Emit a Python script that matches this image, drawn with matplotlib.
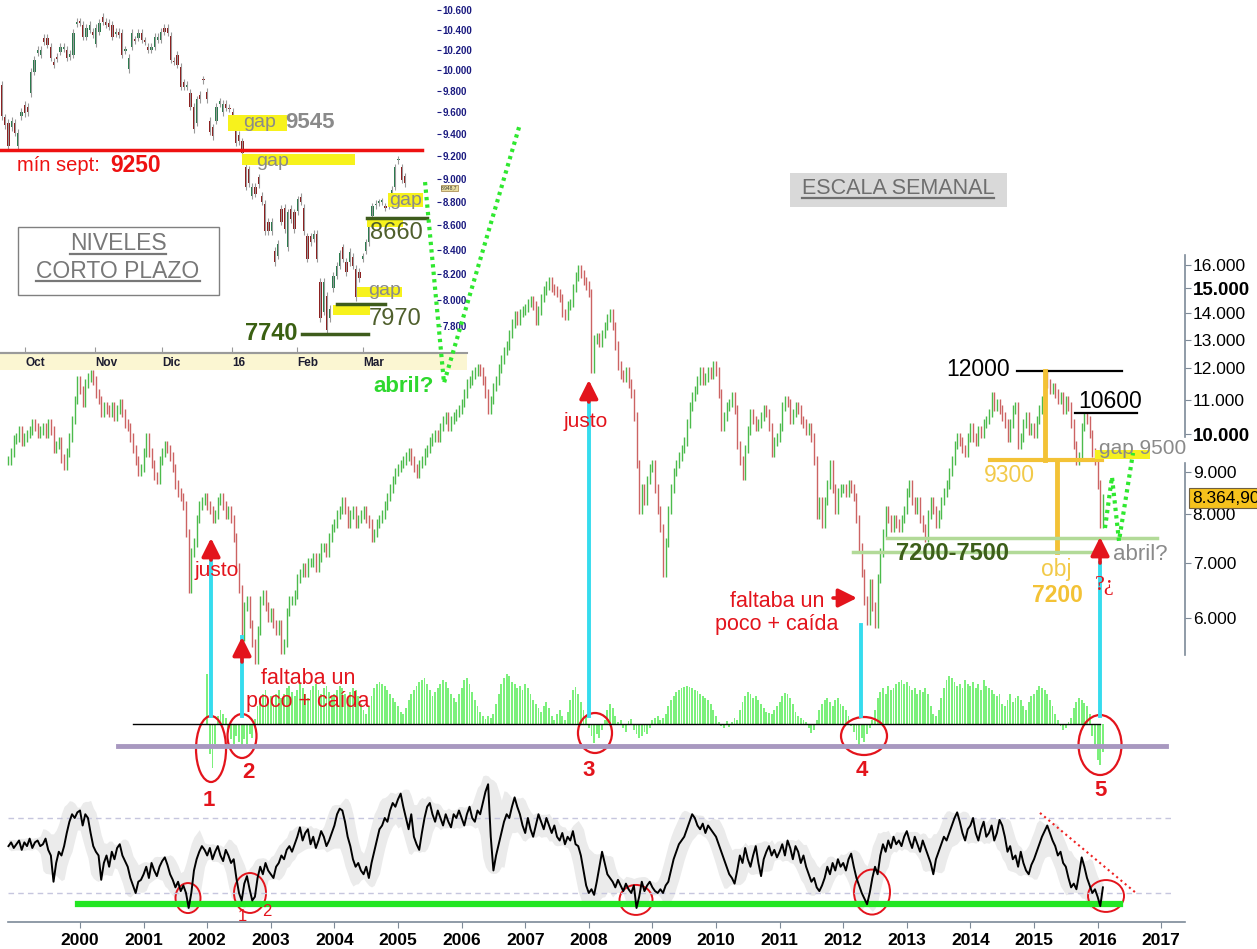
import numpy as np
import pandas as pd
import matplotlib
matplotlib.use("Agg")
import matplotlib.pyplot as plt
from matplotlib.patches import Ellipse, Rectangle
from matplotlib.lines import Line2D
from matplotlib.ticker import FixedLocator, NullLocator

plt.rcParams["font.family"] = ["Liberation Sans", "DejaVu Sans"]

# ---------------- data ----------------
# weekly index chart, sampled twice a month (close), starting Nov 1998
START = 1998.875
PRICE_1998 = [9300, 9500, 9850]
PRICE_1999 = [9900, 10100, 9800, 9900, 10000, 10100, 10300, 10200, 10000, 10100, 10200, 10000,
              10300, 10100, 9600, 9700, 9800, 9350, 9150, 9500, 9900, 10400, 11000, 11600]
PRICE_2000 = [11300, 10900, 11500, 11700, 11800, 11600, 11200, 11000, 10600, 10800, 10700, 10600,
              10800, 10500, 10700, 10900, 10600, 10300, 10200, 9900, 9600, 9300, 9000, 9100]
PRICE_2001 = [9500, 9900, 9500, 9200, 8900, 8800, 9300, 9500, 9700, 9600, 9400, 9100,
              8700, 8500, 8400, 8200, 7600, 6500, 7200, 7400, 7900, 8200, 8300, 8400]
PRICE_2002 = [8200, 8100, 7900, 8000, 8300, 8400, 8200, 8000, 8100, 7900, 7500, 6900,
              6500, 5700, 6200, 6300, 5900, 5600, 5350, 5800, 6300, 6400, 6200, 6000]
PRICE_2003 = [6100, 5900, 5800, 5900, 5500, 5600, 6100, 6300, 6300, 6400, 6700, 6800,
              6900, 6800, 7000, 7000, 7100, 6900, 7100, 7300, 7300, 7200, 7500, 7700]
PRICE_2004 = [7800, 8000, 8100, 8300, 8100, 7800, 8000, 8100, 7800, 7900, 8000, 8100,
              7900, 7800, 7500, 7600, 7800, 7900, 8000, 8200, 8400, 8600, 8800, 9000]
PRICE_2005 = [9100, 9200, 9300, 9400, 9500, 9300, 9100, 8950, 9200, 9300, 9500, 9600,
              9800, 9900, 10000, 9900, 10200, 10400, 10500, 10200, 10400, 10500, 10600, 10700]
PRICE_2006 = [10900, 11200, 11500, 11600, 11800, 11900, 12000, 11900, 11600, 11200, 10700, 11000,
              11400, 11600, 12000, 12300, 12600, 12800, 13200, 13600, 13900, 13700, 14000, 14100]
PRICE_2007 = [14200, 14400, 14500, 14300, 13700, 14100, 14600, 14900, 15100, 15300, 15000, 14900,
              14800, 14600, 14000, 13900, 14300, 14400, 15000, 15500, 15800, 15600, 15300, 15100]
PRICE_2008 = [14800, 12000, 13000, 13100, 12900, 13200, 13500, 13800, 14000, 13500, 12800, 12100,
              11800, 11700, 11900, 11500, 11200, 10500, 9200, 8100, 8600, 8300, 8800, 9100]
PRICE_2009 = [9200, 8600, 8100, 7700, 6800, 7400, 8100, 8600, 9000, 9200, 9400, 9600,
              9800, 10300, 10800, 11100, 11300, 11600, 11900, 11600, 11700, 11900, 11800, 12100]
PRICE_2010 = [11900, 11200, 10200, 10500, 10800, 10900, 11100, 10700, 9700, 9300, 8900, 9600,
              10100, 10600, 10400, 10200, 10300, 10500, 10700, 10600, 10200, 9500, 9800, 9900]
PRICE_2011 = [10200, 10800, 11000, 10900, 10400, 10600, 10800, 10700, 10400, 10300, 10100, 10200,
              9900, 9300, 8000, 8300, 7800, 8300, 8700, 9200, 8600, 8100, 8500, 8600]
PRICE_2012 = [8600, 8500, 8700, 8600, 8400, 7900, 7300, 6800, 6300, 5950, 6600, 6200,
              5900, 6700, 7200, 7600, 8100, 7900, 7700, 7900, 7800, 7700, 7900, 8100]
PRICE_2013 = [8500, 8700, 8300, 8100, 8300, 7900, 7700, 7500, 8000, 8300, 8100, 7800,
              8000, 8300, 8500, 8700, 9000, 9300, 9700, 9900, 9800, 9600, 9500, 9900]
PRICE_2014 = [10200, 9900, 9800, 10100, 10000, 10300, 10400, 10600, 11100, 10800, 10900, 10700,
              10500, 10300, 9900, 10300, 10700, 10800, 9700, 9900, 10300, 10500, 10100, 10200]
PRICE_2015 = [10000, 10400, 10700, 11000, 11850, 11500, 11300, 11400, 11200, 11000, 11100, 10700,
              11000, 10800, 10300, 9700, 9300, 9400, 10200, 10500, 10400, 10000, 9500, 9300]
PRICE_2016 = [8700, 7800, 8365]

# momentum histogram (twice a month from Jan 2002)
HIST_START = 2002.0
HIST_2002 = [50, -30, -44, -20, 8, 14, 10, 6, -8, -15, -20, -12, -18, -23, -15, -20, -10, -14, 5, 18, 26, 30, 34, 22]
HIST_2003 = [28, 20, 30, 34, 26, 30, 36, 38, 32, 28, 34, 40, 36, 30, 26, 34, 38, 40, 34, 30, 36, 38, 32, 28]
HIST_2004 = [30, 34, 38, 36, 30, 26, 32, 36, 34, 28, 20, 14, 10, 18, 28, 36, 40, 42, 40, 38, 34, 30, 26, 22]
HIST_2005 = [18, 12, 10, 16, 24, 30, 34, 38, 42, 44, 46, 40, 34, 28, 32, 36, 40, 44, 42, 36, 30, 26, 22, 30]
HIST_2006 = [36, 44, 46, 40, 32, 24, 18, 12, 8, 5, 8, 6, 10, 20, 30, 40, 46, 50, 48, 42, 40, 36, 38, 34]
HIST_2007 = [40, 36, 30, 24, 20, 16, 12, 18, 22, 16, 8, 4, 10, 14, 8, 4, 12, 24, 34, 37, 30, 22, 14, 8]
HIST_2008 = [-4, -12, -19, -10, -14, -6, 4, 14, 20, 16, 8, 2, 4, -4, -8, 3, 5, -6, -10, -14, -12, -8, -10, -4]
HIST_2009 = [4, 6, 8, 4, 6, 10, 18, 24, 28, 32, 34, 36, 37, 38, 37, 36, 34, 33, 30, 28, 26, 24, 20, 14]
HIST_2010 = [8, 2, -2, -4, 3, -3, 2, 6, 4, 14, 22, 28, 32, 30, 26, 28, 24, 20, 16, 12, 11, 10, 14, 18]
HIST_2011 = [22, 28, 31, 30, 26, 20, 12, 8, 6, 4, 2, -4, -9, -6, 4, 14, 20, 24, 26, 22, 18, 24, 26, 20]
HIST_2012 = [18, 14, 8, -2, -8, -16, -21, -14, -18, -10, -4, 4, 14, 26, 32, 36, 30, 38, 34, 36, 40, 42, 44, 40]
HIST_2013 = [42, 38, 34, 36, 30, 34, 32, 36, 30, 18, 10, 8, 14, 26, 36, 44, 48, 46, 42, 38, 40, 36, 44, 40]
HIST_2014 = [38, 42, 36, 40, 34, 44, 38, 36, 34, 30, 28, 30, 20, 18, 24, 30, 22, 26, 28, 24, 18, 14, 22, 28]
HIST_2015 = [30, 34, 38, 36, 34, 30, 24, 18, 10, 4, -2, -6, -4, 2, 6, 16, 22, 26, 24, 21, 18, 10, -12, -24]
HIST_2016 = [-36, -41, -28]

# oscillator (same dates as the price)
OSC_1998 = [55, 57, 54]
OSC_1999 = [56, 58, 53, 57, 55, 59, 54, 57, 58, 55, 56, 59, 53, 50, 36, 46, 52, 50, 55, 62, 68, 72, 70, 73]
OSC_2000 = [74, 66, 72, 70, 62, 55, 52, 50, 37, 46, 50, 44, 52, 48, 54, 56, 50, 47, 44, 38, 34, 30, 36, 37]
OSC_2001 = [40, 44, 38, 46, 42, 39, 44, 47, 49, 45, 40, 37, 33, 36, 31, 34, 30, 22, 30, 42, 48, 52, 55, 53]
OSC_2002 = [50, 54, 48, 52, 55, 50, 47, 53, 50, 46, 48, 38, 30, 26, 35, 39, 32, 26, 28, 38, 44, 40, 46, 42]
OSC_2003 = [40, 38, 44, 46, 50, 48, 53, 55, 52, 56, 60, 65, 58, 62, 64, 56, 60, 54, 58, 63, 60, 55, 58, 62]
OSC_2004 = [66, 72, 75, 74, 68, 60, 55, 48, 44, 46, 42, 40, 44, 38, 46, 52, 58, 64, 66, 70, 68, 74, 78, 76]
OSC_2005 = [80, 83, 76, 70, 64, 72, 60, 56, 53, 62, 70, 76, 78, 72, 68, 74, 70, 66, 72, 68, 65, 72, 70, 74]
OSC_2006 = [70, 66, 72, 76, 70, 68, 74, 72, 78, 84, 88, 60, 42, 50, 56, 62, 68, 72, 70, 76, 81, 76, 72, 66]
OSC_2007 = [62, 70, 64, 60, 66, 72, 68, 64, 70, 66, 62, 66, 60, 58, 62, 56, 60, 58, 63, 56, 55, 50, 42, 34]
OSC_2008 = [30, 32, 29, 36, 44, 52, 46, 40, 38, 36, 33, 37, 34, 31, 35, 32, 30, 34, 22, 28, 36, 31, 34, 36]
OSC_2009 = [33, 31, 30, 32, 30, 34, 36, 42, 48, 52, 56, 58, 60, 64, 68, 72, 70, 66, 64, 67, 62, 66, 64, 62]
OSC_2010 = [60, 56, 52, 48, 44, 40, 38, 35, 42, 50, 46, 54, 48, 44, 50, 55, 46, 39, 48, 52, 55, 50, 53, 49]
OSC_2011 = [52, 56, 50, 58, 54, 48, 55, 52, 46, 50, 44, 40, 36, 38, 33, 31, 34, 38, 44, 40, 46, 42, 48, 44]
OSC_2012 = [46, 42, 48, 51, 44, 38, 34, 30, 27, 24, 30, 38, 44, 40, 50, 56, 52, 58, 54, 60, 56, 58, 55, 60]
OSC_2013 = [63, 58, 54, 60, 56, 52, 58, 54, 50, 46, 40, 48, 52, 56, 60, 58, 62, 66, 70, 73, 68, 62, 58, 64]
OSC_2014 = [66, 70, 62, 58, 64, 68, 60, 62, 66, 58, 62, 69, 66, 60, 52, 55, 48, 50, 44, 52, 46, 42, 40, 45]
OSC_2015 = [48, 52, 56, 60, 63, 66, 62, 58, 55, 50, 52, 46, 44, 38, 33, 35, 32, 40, 49, 44, 38, 34, 30, 32]
OSC_2016 = [28, 23, 33]

# daily candles of the short-term inset (late Sep 2015 - Mar 2016)
INSET_OPEN = [9860, 9550, 9500, 9460, 9500, 9285, 9560, 9670, 9650, 9780,
              9985, 10170, 10150, 10320, 10320, 10230, 10080, 10130, 10180, 10210,
              10200, 10130, 10150, 10460, 10480, 10450, 10330, 10400, 10380, 10260,
              10380, 10530, 10480, 10470, 10450, 10360, 10380, 10370, 10190, 10010,
              10230, 10300, 10320, 10370, 10290, 10230, 10200, 10230, 10300, 10300,
              10420, 10420, 10340, 10090, 10150, 10030, 9880, 9840, 9780, 9650,
              9500, 9760, 9910, 9790, 9520, 9460, 9520, 9680, 9600, 9680,
              9640, 9600, 9440, 9390, 9330, 9100, 9080, 8850, 8930, 9010,
              8850, 8780, 8630, 8550, 8390, 8350, 8740, 8750, 8420, 8740,
              8710, 8720, 8840, 8750, 8510, 8510, 8490, 8530, 8140, 7910,
              8030, 7860, 8090, 8190, 8270, 8420, 8300, 8300, 8340, 8245,
              8220, 8325, 8390, 8460, 8680, 8770, 8790, 8800, 8760, 8770,
              8800, 8930, 9160, 9100, 9020]
INSET_CLOSE = [9560, 9480, 9285, 9520, 9410, 9410, 9600, 9590, 9600, 9985,
               10100, 10200, 10200, 10280, 10250, 10120, 10050, 10110, 10230, 10230,
               10120, 10160, 10370, 10480, 10470, 10330, 10420, 10450, 10350, 10420,
               10470, 10480, 10450, 10430, 10330, 10380, 10350, 10150, 10200, 10120,
               10370, 10290, 10370, 10300, 10280, 10200, 10230, 10330, 10330, 10380,
               10380, 10370, 10100, 10080, 10050, 9840, 9840, 9860, 9650, 9440,
               9720, 9720, 9900, 9720, 9420, 9380, 9650, 9700, 9680, 9640,
               9630, 9560, 9320, 9330, 9230, 8930, 8960, 8930, 8870, 8950,
               8800, 8550, 8550, 8630, 8300, 8450, 8630, 8570, 8710, 8650,
               8570, 8820, 8800, 8550, 8325, 8460, 8530, 8325, 7860, 8140,
               7770, 7930, 8190, 8270, 8370, 8325, 8220, 8380, 8270, 8020,
               8170, 8345, 8460, 8610, 8760, 8780, 8795, 8800, 8750, 8775,
               8900, 9100, 9165, 8990, 8960]
INSET_MONTHS = ["Oct", "Nov", "Dic", "16", "Feb", "Mar"]
INSET_MONTH_POS = [7.1, 28.6, 49.2, 70.8, 90.8, 111.1]

PRICE_TICKS = [6000, 7000, 8000, 9000, 10000, 11000, 12000, 13000, 14000, 15000, 16000]
INSET_TICKS = [7800, 8000, 8200, 8400, 8600, 8800, 9000, 9200, 9400, 9600, 9800, 10000, 10200, 10400, 10600]
YEARS = list(range(2000, 2018))

price = np.array(PRICE_1998 + PRICE_1999 + PRICE_2000 + PRICE_2001 + PRICE_2002 + PRICE_2003 +
                 PRICE_2004 + PRICE_2005 + PRICE_2006 + PRICE_2007 + PRICE_2008 + PRICE_2009 +
                 PRICE_2010 + PRICE_2011 + PRICE_2012 + PRICE_2013 + PRICE_2014 + PRICE_2015 +
                 PRICE_2016, dtype=float)
osc = np.array(OSC_1998 + OSC_1999 + OSC_2000 + OSC_2001 + OSC_2002 + OSC_2003 + OSC_2004 +
               OSC_2005 + OSC_2006 + OSC_2007 + OSC_2008 + OSC_2009 + OSC_2010 + OSC_2011 +
               OSC_2012 + OSC_2013 + OSC_2014 + OSC_2015 + OSC_2016, dtype=float)
hist = np.array(HIST_2002 + HIST_2003 + HIST_2004 + HIST_2005 + HIST_2006 + HIST_2007 +
                HIST_2008 + HIST_2009 + HIST_2010 + HIST_2011 + HIST_2012 + HIST_2013 +
                HIST_2014 + HIST_2015 + HIST_2016, dtype=float)
t_price = START + np.arange(len(price)) / 24
t_osc = START + np.arange(len(osc)) / 24
t_hist = HIST_START + np.arange(len(hist)) / 24

# ---------------- styling ----------------
RED = "#e3141c"
GOLD = "#f3c236"
GOLD_T = "#f2ca4a"
CYAN = "#35dcee"
LGREEN = "#b2da98"
DOTGREEN = "#2fe82f"
GREY_T = "#8a8a8a"
AXC = "#7d8a98"

W, H = 1257, 949
fig = plt.figure(figsize=(W / 100, H / 100), dpi=100)


def box(x0, y0, x1, y1):
    return [x0 / W, 1 - y1 / H, (x1 - x0) / W, (y1 - y0) / H]


XMIN, XMAX = 1998.742, 2017.374

ax_osc = fig.add_axes(box(0, 775, 1185, 922), zorder=1)
ax_hist = fig.add_axes(box(0, 660, 1185, 780), zorder=2)
ax_ins = fig.add_axes(box(0, 0, 437, 353), zorder=3)
ax = fig.add_axes(box(0, 250, 1185, 680), zorder=4)
for a in (ax, ax_hist, ax_osc):
    a.patch.set_alpha(0)
    a.set_xlim(XMIN, XMAX)
    for s in a.spines.values():
        s.set_visible(False)

# ---------------- main weekly price ----------------
ax.set_yscale("log")
ax.set_ylim(5051, 16676)
prev = np.r_[price[0], price[:-1]]
hi = np.maximum(prev, price) * 1.012
lo = np.minimum(prev, price) / 1.012
up = price >= prev
ax.vlines(t_price[up], lo[up], hi[up], color="#4cbb4c", lw=1.0)
ax.vlines(t_price[~up], lo[~up], hi[~up], color="#cc6363", lw=1.0)

ax.set_xticks([])
ax.yaxis.tick_right()
ax.yaxis.set_major_locator(FixedLocator(PRICE_TICKS))
ax.yaxis.set_minor_locator(NullLocator())
ax.set_yticklabels([f"{v:,.0f}".replace(",", ".") for v in PRICE_TICKS])
ax.tick_params(axis="y", direction="out", length=4, color=AXC, labelsize=12.5, pad=1.5)
for lab, v in zip(ax.get_yticklabels(), PRICE_TICKS):
    if v in (10000, 15000):
        lab.set_fontweight("bold")
        lab.set_fontsize(13.5)
ax.axvline(XMAX, 0.058, 0.505, color=AXC, lw=1.2, clip_on=False)
ax.axvline(XMAX, 0.565, 0.988, color=AXC, lw=1.2, clip_on=False)

# cyan markers + red arrows
for tx, top in [(2002.06, 7188), (2002.547, 5692), (2008.0, 10933), (2012.28, 5884), (2016.038, 6990)]:
    ax.plot([tx, tx], [top, 4570], color=CYAN, lw=2.8, clip_on=False, zorder=3)
ap = dict(arrowstyle="-|>,head_length=0.8,head_width=0.4", color=RED, lw=2.6,
          shrinkA=0, shrinkB=0, mutation_scale=14)
for tx, p0, p1 in [(2002.06, 7049, 7493), (2002.547, 5310, 5692), (2008.0, 10933, 11622),
                   (2016.038, 6990, 7514)]:
    ax.annotate("", xy=(tx, p1), xytext=(tx, p0), arrowprops=ap, zorder=5)
ax.annotate("", xy=(2012.217, 6343), xytext=(2011.84, 6343), arrowprops=ap, zorder=5)

ax.text(2002.154, 6837, "justo", color=RED, fontsize=15, ha="center", va="center", zorder=6)
ax.text(2007.956, 10370, "justo", color=RED, fontsize=15, ha="center", va="center", zorder=6)
ax.text(2003.585, 4912, "faltaba un\npoco + caída", color=RED, fontsize=15.5, ha="center",
        va="center", linespacing=1.1, zorder=6)
ax.text(2010.96, 6084, "faltaba un\npoco + caída", color=RED, fontsize=15.5, ha="center",
        va="center", linespacing=1.1, zorder=6)

# levels on the right
ax.plot([2014.733, 2016.384], [11900, 11900], color="black", lw=1.6)
ax.text(2014.12, 11951, "12000", fontsize=16.5, ha="center", va="center")
ax.plot([2015.645, 2016.62], [10600, 10600], color="black", lw=1.6)
ax.text(2016.195, 10933, "10600", fontsize=16.5, ha="center", va="center")
ax.plot([2015.173, 2015.173], [11900, 9300], color=GOLD, lw=3.5)
ax.plot([2014.308, 2016.07], [9300, 9300], color=GOLD, lw=3)
ax.plot([2015.362, 2015.362], [9300, 7200], color=GOLD, lw=3.5)
ax.text(2014.607, 8926, "9300", color=GOLD_T, fontsize=16.5, ha="center", va="center")
ax.text(2015.346, 6857, "obj", color=GOLD_T, fontsize=16.5, ha="center", va="center")
ax.text(2015.362, 6396, "7200", color=GOLD, fontsize=16.5, fontweight="bold", ha="center", va="center")
ax.plot([2012.689, 2016.934], [7500, 7500], color=LGREEN, lw=2.5)
ax.plot([2012.154, 2016.04], [7200, 7200], color=LGREEN, lw=2.5)
ax.text(2013.711, 7168, "7200-7500", color="#3d5f1a", fontsize=17, fontweight="bold",
        ha="center", va="center")
ax.add_patch(Rectangle((2015.96, 9338), 0.86, 225, color="#f5f020", lw=0, zorder=2))
ax.text(2016.714, 9621, "gap 9500", color=GREY_T, fontsize=15, ha="center", va="center")
ax.text(2016.667, 7148, "abril?", color=GREY_T, fontsize=16, ha="center", va="center")
ax.text(2016.116, 6558, "?¿", color=RED, fontsize=16, ha="center", va="center",
        family=["Liberation Serif", "DejaVu Serif"])
dots = dict(color=DOTGREEN, lw=3, ls=(0, (0.8, 1.0)), clip_on=False, zorder=7)
ax.plot([2016.116, 2016.226, 2016.336, 2016.557], [7704, 8878, 7432, 9491], **dots)
ax.plot([2005.425, 2005.723, 2006.918], [20140, 11527, 23665], **dots)
ax.text(2005.094, 11428, "abril?", color="#2ed82e", fontsize=16, fontweight="bold",
        ha="center", va="center")

# ---------------- histogram panel ----------------
ax_hist.set_ylim(-56, 64)
ax_hist.set_xticks([]); ax_hist.set_yticks([])
ax_hist.bar(t_hist, hist, width=0.7 / 24, color="#7cf07c", lw=0)
ax_hist.plot([2000.833, 2016.04], [0, 0], color="black", lw=1)
ax_hist.plot([2000.597, 2017.075], [-22, -22], color="#a898c0", lw=3.5)
for tx, v, w, h in [(2002.06, -25, 0.472, 66), (2002.547, -12, 0.456, 44), (2008.097, -9, 0.535, 40),
                    (2012.327, -12, 0.723, 38), (2016.038, -21, 0.676, 60)]:
    ax_hist.add_patch(Ellipse((tx, v), w, h, fill=False, ec=RED, lw=1.6, clip_on=False))
for tx, v, s in [(2002.028, -76, "1"), (2002.642, -49, "2"), (2008.003, -47, "3"),
                 (2012.296, -47, "4"), (2016.038, -66, "5")]:
    ax_hist.text(tx, v, s, color=RED, fontsize=16, fontweight="bold", ha="center", va="center")

# ---------------- oscillator panel ----------------
ax_osc.set_ylim(14.53, 92.93)
s = pd.Series(osc)
mid = s.rolling(9, center=True, min_periods=3).mean()
sd = s.rolling(9, center=True, min_periods=3).std()
ax_osc.fill_between(t_osc, mid - 1.6 * sd, mid + 1.6 * sd, color="#ebebeb", lw=0)
for lvl in (70, 30):
    ax_osc.plot([1998.87, 2017.2], [lvl, lvl], color="#c6c6de", lw=1, ls=(0, (4, 3)))
ax_osc.plot([1999.97, 2016.35], [24.13, 24.13], color="#22e622", lw=4.5)
ax_osc.plot(t_osc, osc, color="black", lw=1.4)
for tx, v, w, h in [(2001.698, 27.3, 0.393, 16), (2002.673, 30, 0.503, 21.3), (2008.742, 26.3, 0.519, 16),
                    (2012.453, 30.5, 0.566, 24), (2016.132, 28.4, 0.566, 17)]:
    ax_osc.add_patch(Ellipse((tx, v), w, h, fill=False, ec=RED, lw=1.4, clip_on=False))
ax_osc.text(2002.557, 17.2, "1", color=RED, fontsize=12, ha="center", va="center")
ax_osc.text(2002.934, 19.9, "2", color=RED, fontsize=12, ha="center", va="center")
ax_osc.plot([2015.094, 2016.604], [72.7, 30], color="#ee2222", lw=1.5, ls=":")
ax_osc.spines["bottom"].set_visible(True)
ax_osc.spines["bottom"].set_color(AXC)
ax_osc.spines["bottom"].set_linewidth(1.2)
ax_osc.spines["bottom"].set_bounds(1998.868, XMAX)
ax_osc.set_yticks([])
ax_osc.set_xticks(YEARS)
ax_osc.set_xticklabels([str(y) for y in YEARS])
ax_osc.tick_params(axis="x", direction="out", length=4, color=AXC, labelsize=12.5, pad=4)
for lab in ax_osc.get_xticklabels():
    lab.set_fontweight("bold")

# ---------------- short-term inset ----------------
ax_ins.set_facecolor("white")
ax_ins.set_yscale("log")
ax_ins.set_xlim(-0.615, 133.85)
ax_ins.set_ylim(7598, 10703)
for s_ in ("top", "left", "right"):
    ax_ins.spines[s_].set_visible(False)
ax_ins.spines["bottom"].set_color("#9a9a9a")
ax_ins.spines["bottom"].set_linewidth(1.5)
o = np.array(INSET_OPEN, dtype=float)
c = np.array(INSET_CLOSE, dtype=float)
xi = np.arange(len(o))
ax_ins.vlines(xi, np.minimum(o, c) * 0.9965, np.maximum(o, c) * 1.0035, color="#9a9a9a", lw=0.8)
upc = c >= o
body = np.maximum(np.abs(c - o), 12)
ax_ins.bar(xi[upc], body[upc], bottom=o[upc], width=0.72, color="#267a4a", lw=0)
ax_ins.bar(xi[~upc], body[~upc], bottom=c[~upc], width=0.72, color="#8c1c1c", lw=0)

ax_ins.yaxis.tick_right()
ax_ins.yaxis.set_major_locator(FixedLocator(INSET_TICKS))
ax_ins.yaxis.set_minor_locator(NullLocator())
ax_ins.set_yticklabels([f"{v:,.0f}".replace(",", ".") for v in INSET_TICKS])
ax_ins.tick_params(axis="y", direction="out", length=3, color="#1a1a80", labelsize=7,
                   labelcolor="#1a1a80", pad=1)
for lab in ax_ins.get_yticklabels():
    lab.set_fontweight("bold")
ax_ins.set_xticks(INSET_MONTH_POS)
ax_ins.set_xticklabels(INSET_MONTHS, ha="left")
ax_ins.tick_params(axis="x", direction="in", length=4, color="#9a9a9a", labelsize=8.5,
                   labelcolor="#1c1c30", pad=3)
for lab in ax_ins.get_xticklabels():
    lab.set_fontweight("bold")

ax_ins.plot([-0.6, 129.2], [9250, 9250], color="#ee1111", lw=2.5)
ax_ins.text(4.6, 9119, "mín sept:", color="#ee1111", fontsize=14.5, va="center", ha="left")
ax_ins.text(33.2, 9119, "9250", color="#ee1111", fontsize=16.5, fontweight="bold", va="center", ha="left")
for x0, x1, p0, p1 in [(69.5, 87.7, 9425, 9573), (73.8, 108.6, 9119, 9216), (118.8, 129.5, 8754, 8874),
                       (112.3, 123.4, 8586, 8662), (109.2, 123.1, 8022, 8101), (101.8, 113.2, 7883, 7960)]:
    ax_ins.add_patch(Rectangle((x0, p0), x1 - x0, p1 - p0, color="#f7f21c", lw=0, zorder=2.5))
ax_ins.text(74.2, 9500, "gap", color=GREY_T, fontsize=14, va="center", ha="left", zorder=4)
ax_ins.text(87.1, 9500, "9545", color=GREY_T, fontsize=16, fontweight="bold", va="center", ha="left", zorder=4)
ax_ins.text(83.1, 9154, "gap", color=GREY_T, fontsize=14, va="center", ha="center", zorder=4)
ax_ins.text(124.3, 8814, "gap", color=GREY_T, fontsize=14, va="center", ha="center", zorder=4)
ax_ins.text(117.8, 8077, "gap", color=GREY_T, fontsize=14, va="center", ha="center", zorder=4)
ax_ins.plot([112.3, 130.8], [8662, 8662], color="#3e5c1c", lw=2.5, zorder=4)
ax_ins.plot([103.1, 117.8], [7968, 7968], color="#3e5c1c", lw=2.5, zorder=4)
ax_ins.plot([92.3, 112.6], [7740, 7740], color="#3e5c1c", lw=2.5, zorder=4)
ax_ins.text(121.2, 8536, "8660", color="#4f5f2c", fontsize=17, va="center", ha="center")
ax_ins.text(120.9, 7853, "7970", color="#4f5f2c", fontsize=17, va="center", ha="center")
ax_ins.text(82.8, 7740, "7740", color="#3a6012", fontsize=17, fontweight="bold", va="center", ha="center")

# date strip under the inset
fig.add_artist(Rectangle((0, 1 - 370 / H), 467 / W, 17 / H, transform=fig.transFigure,
                         color="#fbf6d2", lw=0, zorder=2.5))
fig.add_artist(Line2D([0, 467 / W], [1 - 353 / H] * 2, transform=fig.transFigure,
                      color="#9a9a9a", lw=1.5, zorder=3.5))
fig.text(441 / W, 1 - 188 / H, "8.948,7", fontsize=3.5, color="#333333", va="center", zorder=6,
         bbox=dict(boxstyle="square,pad=0.1", fc="#e8dca0", ec="#a08040", lw=0.5))

# boxed titles
renderer = fig.canvas.get_renderer()


def underline(txt, color):
    bb = txt.get_window_extent(renderer=renderer).transformed(fig.transFigure.inverted())
    y = bb.y0 + 1.5 / H
    fig.add_artist(Line2D([bb.x0, bb.x1], [y, y], transform=fig.transFigure, color=color,
                          lw=1.6, zorder=txt.get_zorder()))


fig.add_artist(Rectangle((18 / W, 1 - 295 / H), 201 / W, 68 / H, transform=fig.transFigure,
                         fc="white", ec="#808080", lw=1, zorder=5))
for yy, s_ in [(244, "NIVELES"), (271, "CORTO PLAZO")]:
    tt = fig.text(118 / W, 1 - yy / H, s_, color="#787878", fontsize=16.5, ha="center",
                  va="center", zorder=6)
    underline(tt, "#787878")
fig.add_artist(Rectangle((790 / W, 1 - 207 / H), 217 / W, 34 / H, transform=fig.transFigure,
                         fc="#d9d9d9", lw=0, zorder=5))
tt = fig.text(898 / W, 1 - 189 / H, "ESCALA SEMANAL", color="#6e6e6e", fontsize=15.5,
              ha="center", va="center", zorder=6)
underline(tt, "#6e6e6e")

# last price tag
fig.text(1192 / W, 1 - 498 / H, "8.364,90", fontsize=12.5, ha="left", va="center", zorder=6,
         bbox=dict(boxstyle="square,pad=0.15", fc="#f6c21c", ec="#706040", lw=0.8))

fig.savefig("out.png", dpi=100)
